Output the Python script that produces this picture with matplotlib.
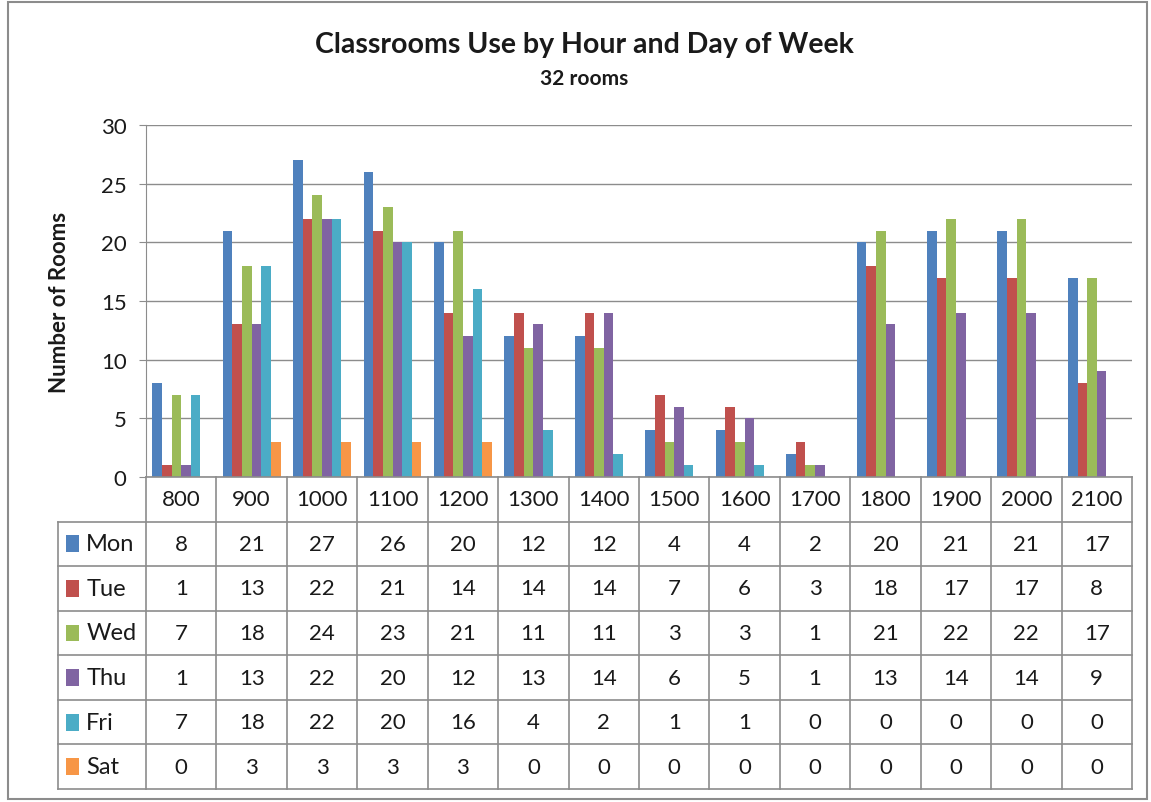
import matplotlib
matplotlib.use("Agg")
import matplotlib.pyplot as plt
from matplotlib.patches import Rectangle
import numpy as np

hours = ["800", "900", "1000", "1100", "1200", "1300", "1400", "1500", "1600", "1700",
         "1800", "1900", "2000", "2100"]
days = ["Mon", "Tue", "Wed", "Thu", "Fri", "Sat"]
mon = [8, 21, 27, 26, 20, 12, 12, 4, 4, 2, 20, 21, 21, 17]
tue = [1, 13, 22, 21, 14, 14, 14, 7, 6, 3, 18, 17, 17, 8]
wed = [7, 18, 24, 23, 21, 11, 11, 3, 3, 1, 21, 22, 22, 17]
thu = [1, 13, 22, 20, 12, 13, 14, 6, 5, 1, 13, 14, 14, 9]
fri = [7, 18, 22, 20, 16, 4, 2, 1, 1, 0, 0, 0, 0, 0]
sat = [0, 3, 3, 3, 3, 0, 0, 0, 0, 0, 0, 0, 0, 0]
series = [mon, tue, wed, thu, fri, sat]
colors = ["#4F81BD", "#C0504D", "#9BBB59", "#8064A2", "#4BACC6", "#F79646"]

plt.rcParams['font.family'] = ['Lato', 'DejaVu Sans']
W, H = 1151, 803
fig = plt.figure(figsize=(W / 100, H / 100), dpi=100)
tc = "#1a1a1a"

def fx(px):
    return px / W

def fy(py):
    return 1 - py / H

# outer frame
fig.patches.append(Rectangle((fx(8), fy(800)), fx(1147) - fx(8), fy(3) - fy(800),
                             transform=fig.transFigure, fill=False,
                             edgecolor="#8c8c8c", linewidth=1.5))

# bar axes
x0, x1, ytop, ybot = 146, 1132, 126, 478
ax = fig.add_axes([fx(x0), fy(ybot), fx(x1) - fx(x0), fy(ytop) - fy(ybot)])
n = len(hours)
x = np.arange(n)
w = 0.82 / 6
for j, (vals, c) in enumerate(zip(series, colors)):
    ax.bar(x + (j - 2.5) * w, vals, width=w, color=c, zorder=3, linewidth=0)
ax.set_xlim(-0.5, n - 0.5)
ax.set_ylim(0, 30)
ax.set_yticks(range(0, 31, 5))
ax.yaxis.grid(True, color="#8c8c8c", linewidth=1, zorder=0)
ax.set_xticks([])
for s in ["top", "right", "bottom"]:
    ax.spines[s].set_visible(False)
ax.spines["left"].set_color("#8c8c8c")
ax.tick_params(axis="y", length=5, color="#8c8c8c", labelsize=16, pad=9, labelcolor=tc)
ax.set_ylabel("Number of Rooms", fontsize=16, fontweight="bold", labelpad=22, color=tc)

fig.text(fx(584), fy(45), "Classrooms Use by Hour and Day of Week", ha="center", va="center",
         fontsize=20.5, fontweight="bold", color=tc)
fig.text(fx(584), fy(79), "32 rooms", ha="center", va="center", fontsize=15, fontweight="bold",
         color=tc)

# table axes
tl, tr, tt, tb = 58, 1132, 478, 790
label_w = (x0 - tl) / ((x1 - x0) / n)
tax = fig.add_axes([fx(tl), fy(tb), fx(tr) - fx(tl), fy(tt) - fy(tb)])
tax.set_xlim(-0.5 - label_w, n - 0.5)
tax.set_ylim(7, 0)
tax.axis("off")
lc = "#8c8c8c"
lw = 1.2
# horizontal lines
tax.plot([-0.5, n - 0.5], [0, 0], color=lc, lw=lw, clip_on=False)
for r in range(1, 8):
    tax.plot([-0.5 - label_w, n - 0.5], [r, r], color=lc, lw=lw, clip_on=False)
# vertical lines
tax.plot([-0.5 - label_w] * 2, [1, 7], color=lc, lw=lw, clip_on=False)
for i in range(n + 1):
    tax.plot([i - 0.5] * 2, [0, 7], color=lc, lw=lw, clip_on=False)
# header
for i, h in enumerate(hours):
    tax.text(i, 0.5, h, ha="center", va="center", fontsize=16, color=tc)
# rows
for r, (d, vals, c) in enumerate(zip(days, series, colors)):
    yc = r + 1.5
    tax.add_patch(Rectangle((-0.5 - label_w + 0.12, yc - 0.19), 0.18, 0.38,
                            facecolor=c, edgecolor="none", clip_on=False))
    tax.text(-0.5 - label_w + 0.40, yc, d, ha="left", va="center", fontsize=17, color=tc)
    for i, v in enumerate(vals):
        tax.text(i, yc, str(v), ha="center", va="center", fontsize=16, color=tc)

fig.savefig("out.png", dpi=100)
